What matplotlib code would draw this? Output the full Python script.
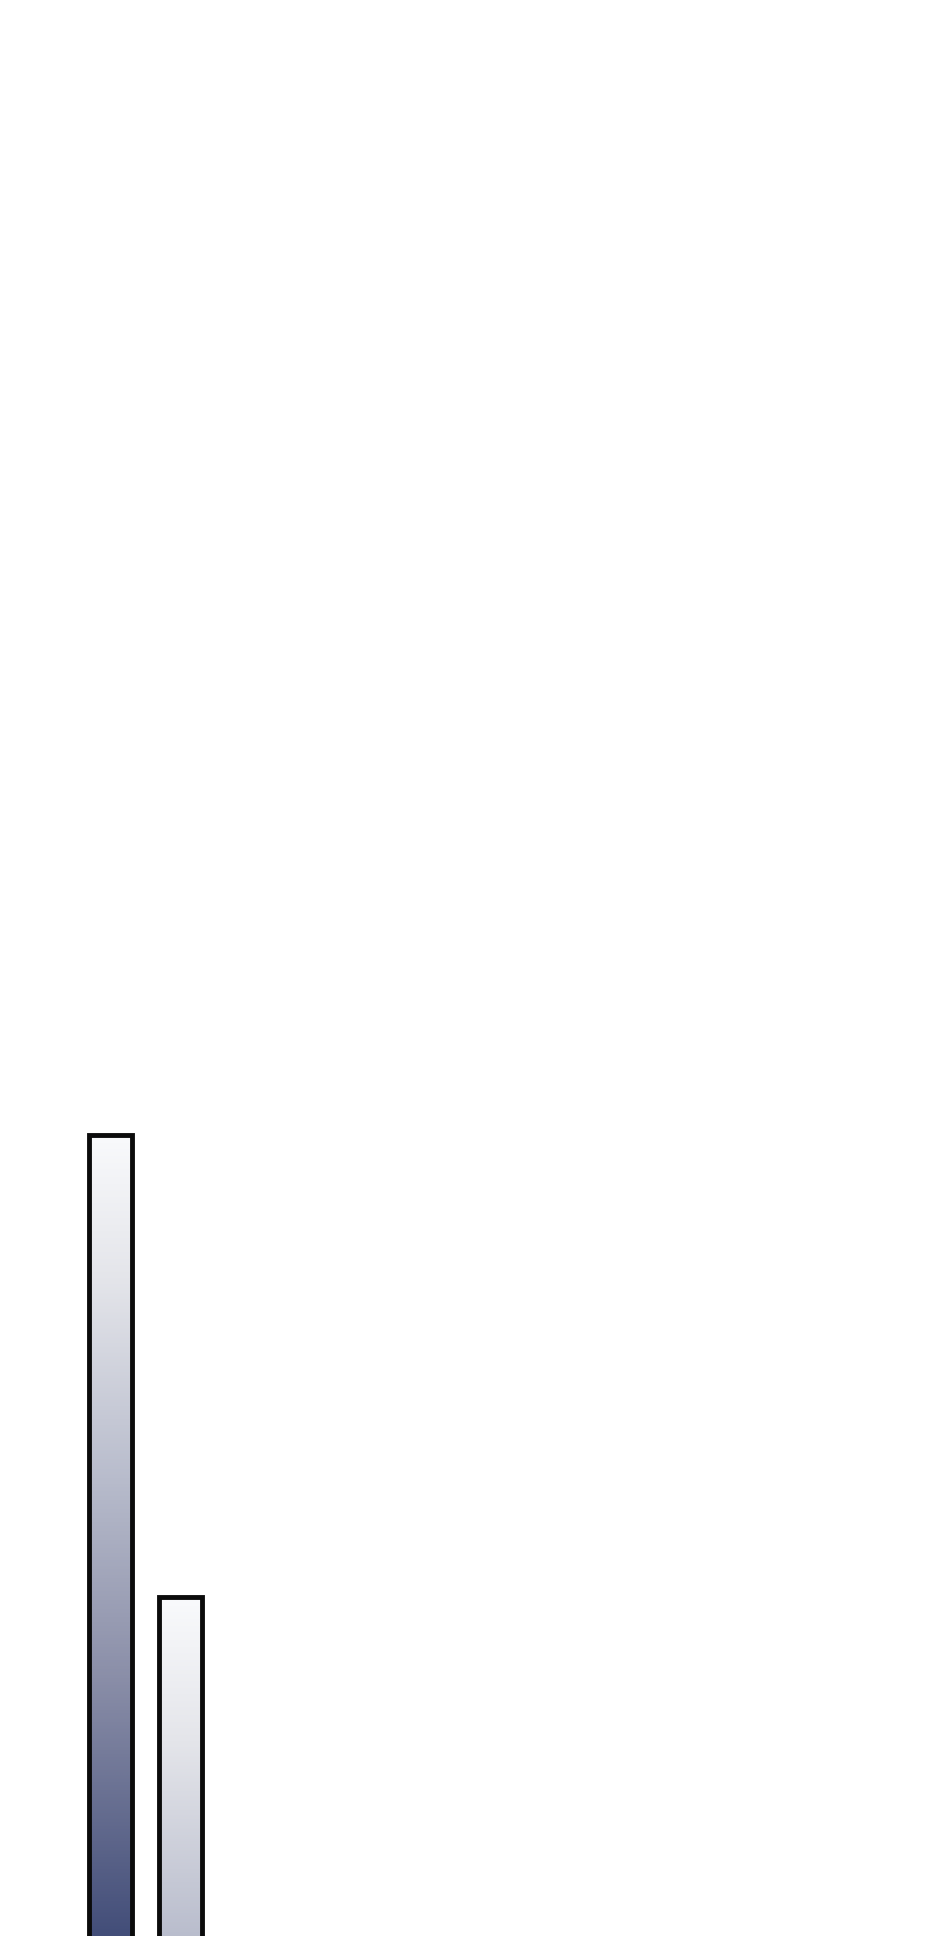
import numpy as np
import matplotlib
matplotlib.use('Agg')
import matplotlib.pyplot as plt
from matplotlib.colors import LinearSegmentedColormap

# chart data (only the tops of two bars are visible in the crop)
categories = ['A', 'B']
values = [100, 60]

# gradient runs from the top of each bar downwards over a fixed length
GRAD_LEN = 69.3
grad_stops = [0.0, 0.18, 0.43, 0.68, 1.0]
grad_colors = ['#f9fafc', '#e4e5ea', '#b8bccc', '#8a8ea8', '#434e79']

cmap = LinearSegmentedColormap.from_list(
    'bar_grad', list(zip(grad_stops, grad_colors)))

fig = plt.figure(figsize=(9.4, 19.36), dpi=100)
ax = fig.add_axes([0, 0, 1, 1])
ax.set_axis_off()

x = np.arange(len(categories))
width = 0.61

grad = np.linspace(0, 1, 512).reshape(-1, 1)
for xi, val in zip(x, values):
    bars = ax.bar(xi, val, width=width, color='none', edgecolor='#0b0b0b',
                  linewidth=3.5, zorder=3)
    rect = bars[0]
    img = ax.imshow(grad, cmap=cmap, aspect='auto', origin='upper',
                    extent=[xi - width / 2, xi + width / 2, val - GRAD_LEN, val],
                    zorder=2, interpolation='bilinear')
    img.set_clip_path(rect)
    # below the gradient length the bar keeps the darkest colour
    ax.bar(xi, val - GRAD_LEN, width=width, color=grad_colors[-1],
           linewidth=0, zorder=1)

ax.set_xlim(-1.567, 11.77)
ax.set_ylim(30.65, 198.27)

plt.savefig('out.png', dpi=100, facecolor='white')
plt.close()
